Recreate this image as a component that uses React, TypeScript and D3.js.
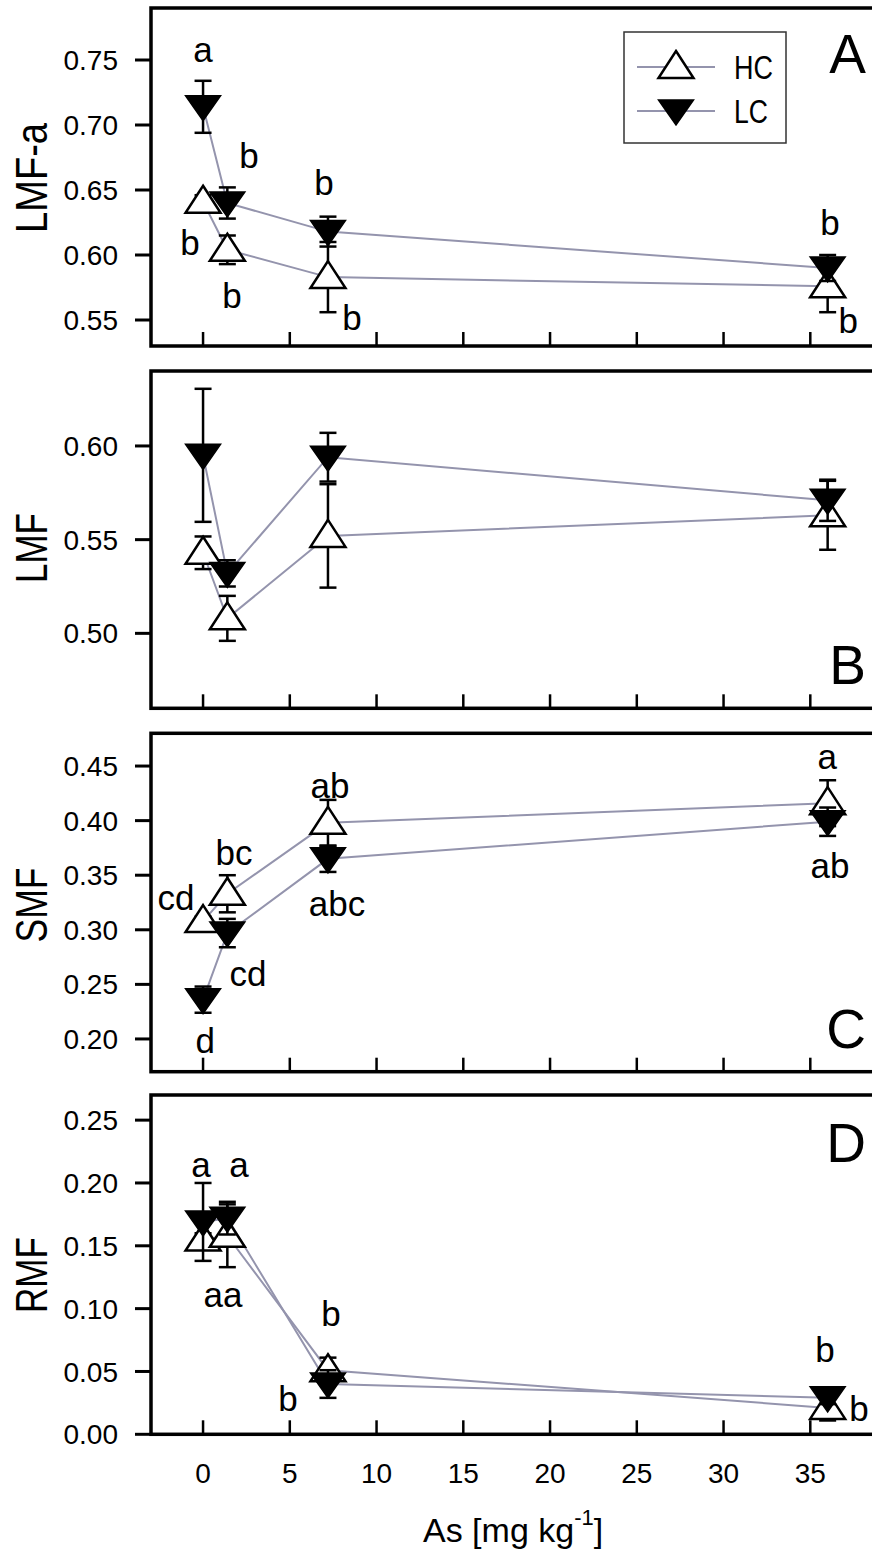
import React from "react";
import * as d3 from "d3";

// ---------------- data ----------------
const asConc = [0, 1.4, 7.2, 36];
const xTicks = [0, 5, 10, 15, 20, 25, 30, 35];

const lmfaHC = [0.641, 0.604, 0.583, 0.576];
const lmfaHCse = [0.005, 0.011, 0.027, 0.02];
const lmfaLC = [0.714, 0.64, 0.618, 0.59];
const lmfaLCse = [0.02, 0.012, 0.0115, 0.01];

const lmfHC = [0.543, 0.508, 0.552, 0.563];
const lmfHCse = [0.0087, 0.012, 0.0276, 0.0184];
const lmfLC = [0.595, 0.532, 0.594, 0.571];
const lmfLCse = [0.0355, 0.007, 0.013, 0.011];

const smfHC = [0.308, 0.333, 0.398, 0.416];
const smfHCse = [0.004, 0.017, 0.021, 0.021];
const smfLC = [0.236, 0.297, 0.365, 0.399];
const smfLCse = [0.012, 0.013, 0.012, 0.013];

const rmfHC = [0.155, 0.158, 0.051, 0.021];
const rmfHCse = [0.005, 0.025, 0.01, 0.01];
const rmfLC = [0.169, 0.172, 0.04, 0.029];
const rmfLCse = [0.031, 0.013, 0.011, 0.005];

const panelLetters = ["A", "B", "C", "D"];
const yTitles = ["LMF-a", "LMF", "SMF", "RMF"];
const yDomains = [
  [0.53, 0.79],
  [0.46, 0.64],
  [0.17, 0.48],
  [0, 0.27],
];
const yTickVals = [
  [0.55, 0.6, 0.65, 0.7, 0.75],
  [0.5, 0.55, 0.6],
  [0.2, 0.25, 0.3, 0.35, 0.4, 0.45],
  [0, 0.05, 0.1, 0.15, 0.2, 0.25],
];

// significance letters (anchor in data space: As, value)
const lettersA = [
  { t: "a", x: 0, v: 0.7487 },
  { t: "b", x: 2.65, v: 0.6672 },
  { t: "b", x: -0.75, v: 0.6002 },
  { t: "b", x: 1.67, v: 0.5595 },
  { t: "b", x: 6.97, v: 0.6464 },
  { t: "b", x: 8.59, v: 0.5425 },
  { t: "b", x: 36.14, v: 0.6156 },
  { t: "b", x: 37.18, v: 0.5402 },
];
const lettersB: { t: string; x: number; v: number }[] = [];
const lettersC = [
  { t: "ab", x: 7.32, v: 0.421 },
  { t: "bc", x: 1.79, v: 0.3598 },
  { t: "cd", x: -1.56, v: 0.3185 },
  { t: "cd", x: 2.59, v: 0.2482 },
  { t: "abc", x: 7.72, v: 0.3124 },
  { t: "d", x: 0.12, v: 0.1871 },
  { t: "a", x: 35.97, v: 0.447 },
  { t: "ab", x: 36.14, v: 0.3476 },
];
const lettersD = [
  { t: "a", x: -0.12, v: 0.205 },
  { t: "a", x: 2.07, v: 0.205 },
  { t: "aa", x: 1.15, v: 0.1011 },
  { t: "b", x: 7.38, v: 0.0865 },
  { t: "b", x: 4.9, v: 0.0186 },
  { t: "b", x: 35.85, v: 0.0572 },
  { t: "b", x: 37.81, v: 0.0106 },
];

const seriesNames = ["HC", "LC"];

// ---------------- layout ----------------
const W = 872;
const H = 1557;
const FONT = "'Liberation Sans', Arial, Helvetica, sans-serif";
const panelTop = [8, 371, 733.3, 1095];
const panelBottom = [346, 708.3, 1071.7, 1434.3];
const yTitleCenter = [178, 548, 905, 1275];
const yTitleLen = [110, 70, 75, 76];
const LINE_COLOR = "#9494ad";

const panels = [
  { hc: lmfaHC, hcSe: lmfaHCse, lc: lmfaLC, lcSe: lmfaLCse, letters: lettersA },
  { hc: lmfHC, hcSe: lmfHCse, lc: lmfLC, lcSe: lmfLCse, letters: lettersB },
  { hc: smfHC, hcSe: smfHCse, lc: smfLC, lcSe: smfLCse, letters: lettersC },
  { hc: rmfHC, hcSe: rmfHCse, lc: rmfLC, lcSe: rmfLCse, letters: lettersD },
];

const x = d3.scaleLinear().domain([-3, 39.5]).range([151, 151 + 42.5 * 17.35]);

function upTri(cx: number, cy: number) {
  return `M${cx},${cy - 16}L${cx + 17.5},${cy + 11}L${cx - 17.5},${cy + 11}Z`;
}
function downTri(cx: number, cy: number) {
  return `M${cx - 17.5},${cy - 11}L${cx + 17.5},${cy - 11}L${cx},${cy + 14}Z`;
}

function ErrBars({ xs, ys, se, y }: any) {
  return (
    <g stroke="#000" strokeWidth={2.5}>
      {xs.map((xv: number, i: number) => {
        const px = x(xv);
        const y1 = y(ys[i] + se[i]);
        const y2 = y(ys[i] - se[i]);
        return (
          <g key={i}>
            <line x1={px} x2={px} y1={y1} y2={y2} />
            <line x1={px - 8.5} x2={px + 8.5} y1={y1} y2={y1} />
            <line x1={px - 8.5} x2={px + 8.5} y1={y2} y2={y2} />
          </g>
        );
      })}
    </g>
  );
}

function Panel({ idx }: { idx: number }) {
  const p = panels[idx];
  const top = panelTop[idx];
  const bottom = panelBottom[idx];
  const y = d3.scaleLinear().domain(yDomains[idx]).range([bottom, top]);
  const line = d3
    .line<number>()
    .x((_, i) => x(asConc[i]))
    .y((d) => y(d));
  const left = x.range()[0];
  const right = x.range()[1];
  const cy = yTitleCenter[idx];
  return (
    <g>
      {/* connecting lines */}
      <path d={line(p.hc) || ""} fill="none" stroke={LINE_COLOR} strokeWidth={2} />
      <path d={line(p.lc) || ""} fill="none" stroke={LINE_COLOR} strokeWidth={2} />
      {/* HC series */}
      <ErrBars xs={asConc} ys={p.hc} se={p.hcSe} y={y} />
      {p.hc.map((v, i) => (
        <path key={"h" + i} d={upTri(x(asConc[i]), y(v))} fill="#fff" stroke="#000" strokeWidth={2.5} strokeLinejoin="miter" />
      ))}
      {/* LC series */}
      <ErrBars xs={asConc} ys={p.lc} se={p.lcSe} y={y} />
      {p.lc.map((v, i) => (
        <path key={"l" + i} d={downTri(x(asConc[i]), y(v))} fill="#000" stroke="#000" strokeWidth={1.5} />
      ))}
      {/* frame */}
      <rect x={left} y={top} width={right - left} height={bottom - top} fill="none" stroke="#000" strokeWidth={3.5} />
      {/* x ticks (inside) */}
      {xTicks.map((t) => (
        <line key={t} x1={x(t)} x2={x(t)} y1={bottom} y2={bottom - 14} stroke="#000" strokeWidth={2.5} />
      ))}
      {/* y ticks */}
      {yTickVals[idx].map((t) => (
        <g key={t}>
          <line x1={left - 16} x2={left} y1={y(t)} y2={y(t)} stroke="#000" strokeWidth={3} />
          <text x={118} y={y(t)} dy="0.36em" textAnchor="end" fontSize={28} fontFamily={FONT}>
            {d3.format(".2f")(t)}
          </text>
        </g>
      ))}
      {/* y title */}
      <text
        transform={`translate(47,${cy}) rotate(-90)`}
        textAnchor="middle"
        fontSize={45}
        fontFamily={FONT}
        textLength={yTitleLen[idx]}
        lengthAdjust="spacingAndGlyphs"
      >
        {yTitles[idx]}
      </text>
      {/* significance letters */}
      {p.letters.map((l, i) => (
        <text key={i} x={x(l.x)} y={y(l.v)} textAnchor="middle" fontSize={35} fontFamily={FONT}>
          {l.t}
        </text>
      ))}
      {/* panel letter */}
      <text
        x={866}
        y={idx === 0 ? top + 65 : idx === 3 ? top + 67 : bottom - 24}
        textAnchor="end"
        fontSize={55}
        fontFamily={FONT}
      >
        {panelLetters[idx]}
      </text>
    </g>
  );
}

function Legend() {
  const lx1 = 637;
  const lx2 = 715;
  const mx = 676;
  const rows = [67, 111];
  return (
    <g>
      <rect x={624} y={32} width={162} height={111} fill="#fff" stroke="#333" strokeWidth={1.5} />
      {seriesNames.map((name, i) => (
        <g key={name}>
          <line x1={lx1} x2={lx2} y1={rows[i]} y2={rows[i]} stroke={LINE_COLOR} strokeWidth={2} />
          {i === 0 ? (
            <path d={upTri(mx, rows[i])} fill="#fff" stroke="#000" strokeWidth={2.5} />
          ) : (
            <path d={downTri(mx, rows[i])} fill="#000" stroke="#000" strokeWidth={1.5} />
          )}
          <text
            x={734}
            y={rows[i] + 12}
            fontSize={33}
            fontFamily={FONT}
            textLength={i === 0 ? 39 : 34}
            lengthAdjust="spacingAndGlyphs"
          >
            {name}
          </text>
        </g>
      ))}
    </g>
  );
}

export default function App() {
  const bottom = panelBottom[3];
  return (
    <svg
      width={W}
      height={H}
      viewBox={`0 0 ${W} ${H}`}
      style={{ position: "absolute", left: 0, top: 0, background: "#fff", overflow: "hidden" }}
    >
      <rect x={0} y={0} width={W} height={H} fill="#fff" />
      {panels.map((_, i) => (
        <Panel key={i} idx={i} />
      ))}
      <Legend />
      {/* x tick labels */}
      {xTicks.map((t) => (
        <text key={t} x={x(t)} y={bottom + 49} textAnchor="middle" fontSize={28} fontFamily={FONT}>
          {t}
        </text>
      ))}
      <text x={423} y={1542} fontSize={34} fontFamily={FONT}>
        As [mg kg
        <tspan dy={-17} fontSize={22}>-1</tspan>
        <tspan dy={17}>]</tspan>
      </text>
    </svg>
  );
}
